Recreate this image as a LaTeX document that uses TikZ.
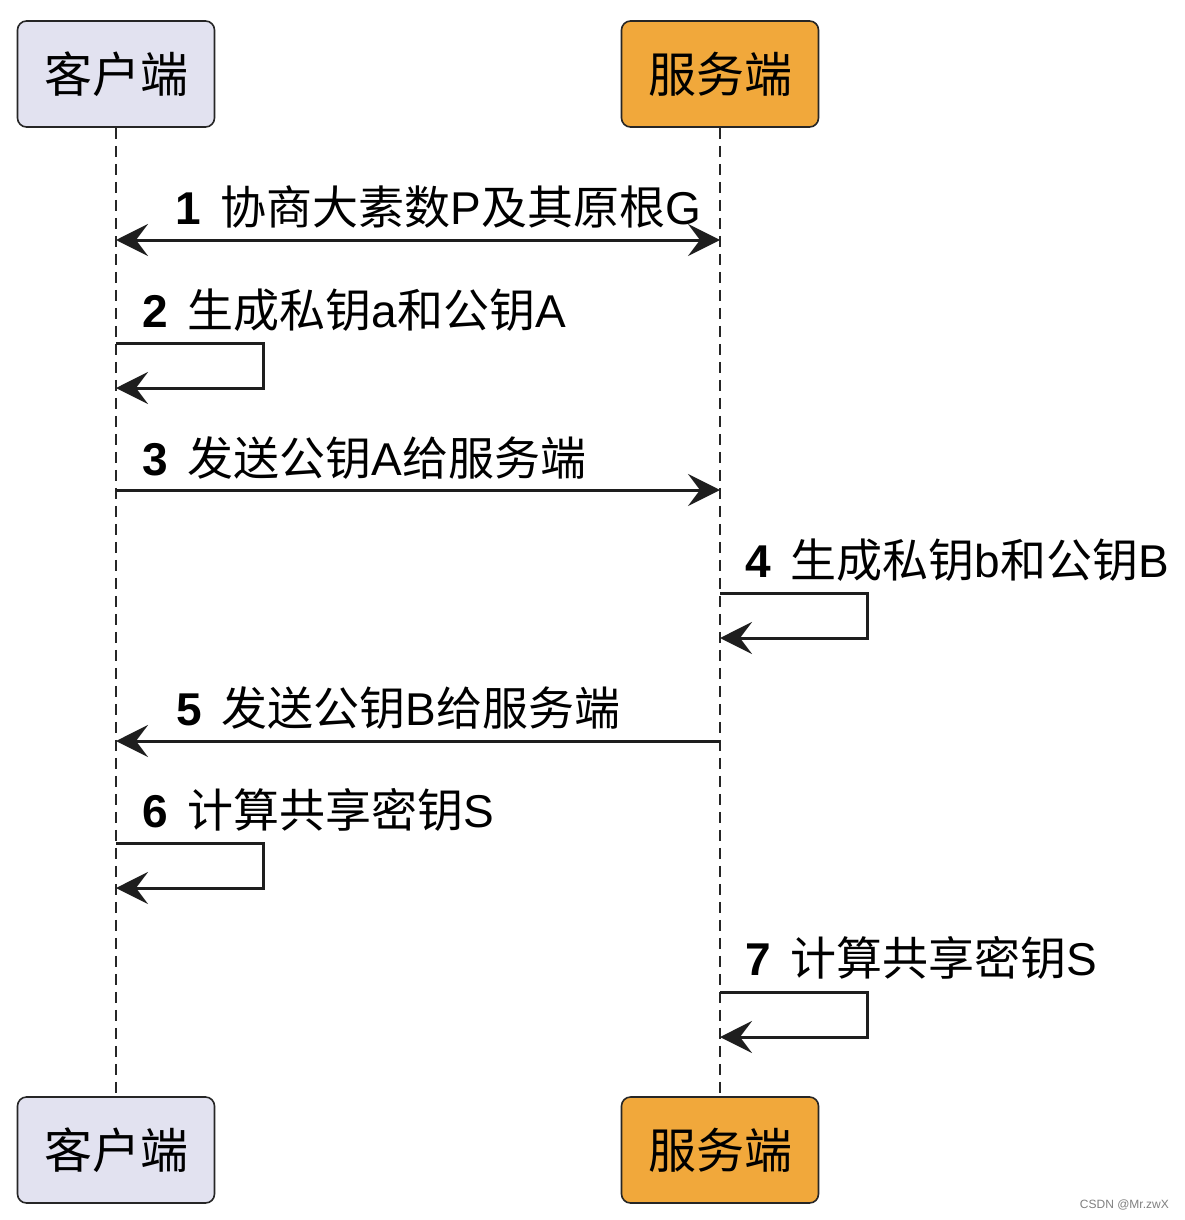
\documentclass[tikz,border=0pt]{standalone}
\usepackage{fontspec}
\setmainfont{Liberation Sans}
\newfontfamily\cjk{Noto Sans CJK SC}
\newfontfamily\numfont{Liberation Sans}
\usetikzlibrary{arrows.meta}
\definecolor{clientfill}{HTML}{E2E2F0}
\definecolor{serverfill}{HTML}{F1A83B}
\definecolor{edge}{HTML}{262626}
\definecolor{arr}{HTML}{1E1E1E}
\tikzset{
  actorbox/.style={draw=edge, line width=1.6pt, rounded corners=9pt, minimum width=197pt, minimum height=106pt, inner sep=0pt, font=\cjk\fontsize{48}{52}\selectfont},
  lifeline/.style={draw=edge, line width=1.3pt, dash pattern=on 11pt off 7pt},
  msg/.style={draw=arr, line width=3pt, -{Stealth[length=32pt, width=32pt, inset=12pt]}},
  msgboth/.style={draw=arr, line width=3pt, {Stealth[length=32pt, width=32pt, inset=12pt]}-{Stealth[length=32pt, width=32pt, inset=12pt]}},
  lbl/.style={anchor=west, inner sep=0pt, font=\cjk\fontsize{46}{50}\selectfont, text=black},
}
\newcommand{\nm}[1]{{\numfont\bfseries #1}\hspace{20pt}}
\newcommand{\la}[1]{{\numfont #1}}
\begin{document}
\begin{tikzpicture}[x=1pt,y=-1pt]
\useasboundingbox[fill=white] (0,0) rectangle (1184,1220);
% actors
\node[actorbox, fill=clientfill] (ct) at (116,74) {客户端};
\node[actorbox, fill=serverfill] (st) at (720,74) {服务端};
\node[actorbox, fill=clientfill] (cb) at (116,1150) {客户端};
\node[actorbox, fill=serverfill] (sb) at (720,1150) {服务端};
% lifelines
\draw[lifeline] (ct.south) -- (cb.north);
\draw[lifeline] (st.south) -- (sb.north);
% coordinates
\coordinate (c1) at (116,240); \coordinate (s1) at (720,240);
\coordinate (c2a) at (116,343); \coordinate (c2b) at (116,388);
\coordinate (c3) at (116,490); \coordinate (s3) at (720,490);
\coordinate (s4a) at (720,593); \coordinate (s4b) at (720,638);
\coordinate (c5) at (116,741); \coordinate (s5) at (720,741);
\coordinate (c6a) at (116,843); \coordinate (c6b) at (116,888);
\coordinate (s7a) at (720,992); \coordinate (s7b) at (720,1037);
% messages
\draw[msgboth] (c1) -- (s1);
\draw[msg] (c2a) -- ++(147,0) |- (c2b);
\draw[msg] (c3) -- (s3);
\draw[msg] (s4a) -- ++(147,0) |- (s4b);
\draw[msg] (s5) -- (c5);
\draw[msg] (c6a) -- ++(147,0) |- (c6b);
\draw[msg] (s7a) -- ++(147,0) |- (s7b);
% labels
\node[lbl] (l1) at (175,207) {\nm{1}协商大素数\la{P}及其原根\la{G}};
\node[lbl] (l2) at (142,310) {\nm{2}生成私钥\la{a}和公钥\la{A}};
\node[lbl] (l3) at (142,458) {\nm{3}发送公钥\la{A}给服务端};
\node[lbl] (l4) at (745,560) {\nm{4}生成私钥\la{b}和公钥\la{B}};
\node[lbl] (l5) at (176,708) {\nm{5}发送公钥\la{B}给服务端};
\node[lbl] (l6) at (142,810) {\nm{6}计算共享密钥\la{S}};
\node[lbl] (l7) at (745,958) {\nm{7}计算共享密钥\la{S}};
% watermark
\node[anchor=east, inner sep=0pt, font=\fontsize{12}{14}\selectfont, text=gray] (wm) at (1169,1205) {CSDN @Mr.zwX};
\end{tikzpicture}
\end{document}
